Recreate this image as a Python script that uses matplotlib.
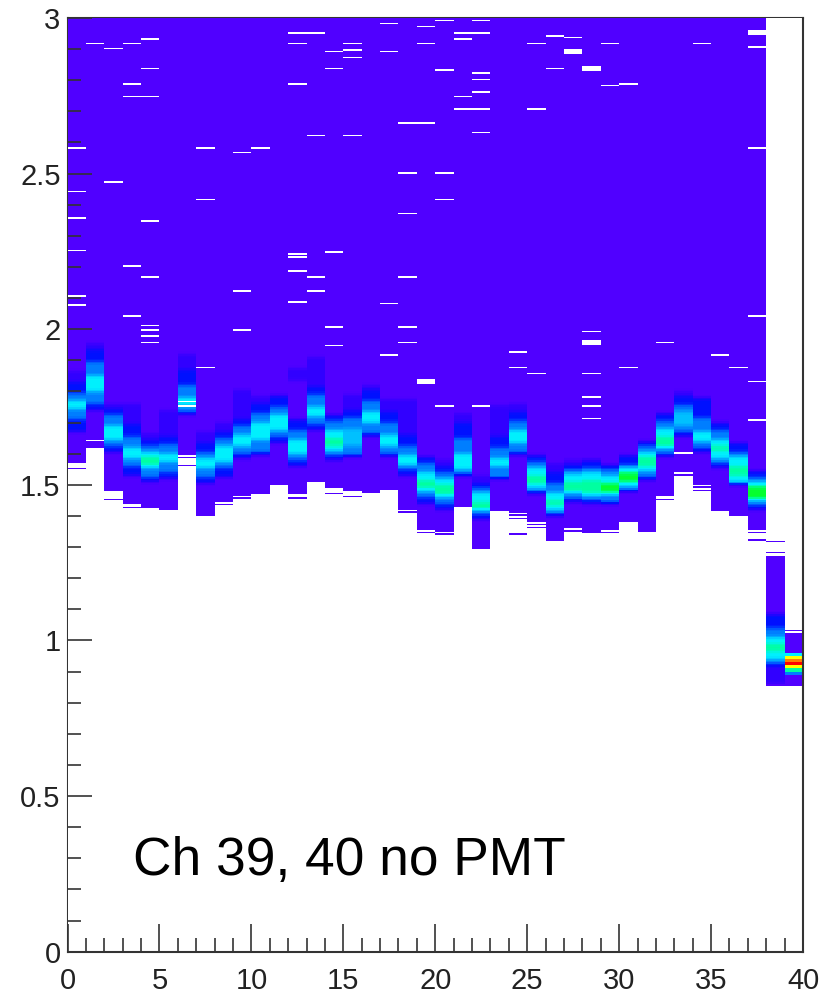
import numpy as np
import matplotlib
matplotlib.use("Agg")
import matplotlib.pyplot as plt
from matplotlib.colors import LinearSegmentedColormap
from matplotlib.ticker import MultipleLocator

plt.rcParams['font.family'] = ['Liberation Sans', 'DejaVu Sans']

# colour steps seen in the picture, low to high
level_colors = ['#5000ff', '#3000ff', '#0010ff', '#0080ff', '#00c0ff', '#00f0ff',
                '#00ffa0', '#00ff30', '#ffff00', '#ff8000', '#ff0000']

# for each channel: where each colour step starts, going up, first edge = bottom of the band
band_edges = [
    [1.572, 1.672, 1.71, 1.745, 1.77, 1.795, 1.83, 1.865],
    [1.62, 1.741, 1.762, 1.80, 1.848, 1.896, 1.934, 1.955],
    [1.479, 1.607, 1.625, 1.645, 1.688, 1.725, 1.746, 1.762],
    [1.441, 1.532, 1.559, 1.586, 1.618, 1.655, 1.693, 1.762],
    [1.425, 1.511, 1.527, 1.554, 1.564, 1.591, 1.607, 1.623, 1.645, 1.666],
    [1.42, 1.522, 1.54, 1.575, 1.60, 1.63, 1.655, 1.74],
    [1.597, 1.725, 1.735, 1.755, 1.779, 1.821, 1.87, 1.918],
    [1.398, 1.506, 1.527, 1.554, 1.586, 1.607, 1.634, 1.672],
    [1.447, 1.527, 1.554, 1.575, 1.623, 1.65, 1.672, 1.698],
    [1.463, 1.586, 1.60, 1.625, 1.66, 1.69, 1.71, 1.805],
    [1.468, 1.596, 1.607, 1.645, 1.698, 1.73, 1.762, 1.784],
    [1.50, 1.634, 1.655, 1.677, 1.725, 1.752, 1.784, 1.79],
    [1.468, 1.559, 1.58, 1.602, 1.645, 1.677, 1.709, 1.837, 1.875],
    [1.516, 1.677, 1.695, 1.72, 1.752, 1.789, 1.816, 1.912],
    [1.49, 1.58, 1.597, 1.61, 1.625, 1.65, 1.675, 1.705, 1.727],
    [1.479, 1.591, 1.596, 1.623, 1.682, 1.714, 1.741, 1.789],
    [1.473, 1.655, 1.666, 1.698, 1.736, 1.768, 1.805, 1.82],
    [1.484, 1.591, 1.602, 1.623, 1.66, 1.698, 1.736, 1.773],
    [1.42, 1.532, 1.548, 1.564, 1.596, 1.623, 1.66, 1.773],
    [1.356, 1.441, 1.462, 1.48, 1.49, 1.515, 1.54, 1.57, 1.59],
    [1.35, 1.42, 1.44, 1.46, 1.47, 1.50, 1.52, 1.54, 1.56, 1.58],
    [1.431, 1.532, 1.55, 1.60, 1.65, 1.70, 1.73],
    [1.302, 1.388, 1.404, 1.42, 1.447, 1.473, 1.49, 1.506, 1.532],
    [1.414, 1.522, 1.559, 1.586, 1.618, 1.655, 1.757],
    [1.411, 1.596, 1.607, 1.634, 1.677, 1.704, 1.736, 1.762],
    [1.382, 1.468, 1.478, 1.49, 1.506, 1.532, 1.554, 1.575, 1.596],
    [1.318, 1.398, 1.404, 1.42, 1.436, 1.452, 1.473, 1.506, 1.538, 1.57],
    [1.361, 1.447, 1.457, 1.473, 1.479, 1.511, 1.533, 1.548, 1.564, 1.58],
    [1.345, 1.441, 1.452, 1.463, 1.473, 1.516, 1.538, 1.554, 1.58],
    [1.356, 1.441, 1.468, 1.479, 1.506, 1.528, 1.548, 1.564],
    [1.382, 1.479, 1.495, 1.511, 1.538, 1.554, 1.564, 1.596],
    [1.35, 1.516, 1.527, 1.543, 1.559, 1.591, 1.607, 1.623, 1.639],
    [1.463, 1.591, 1.602, 1.62, 1.655, 1.682, 1.704, 1.73],
    [1.54, 1.655, 1.672, 1.688, 1.736, 1.757, 1.784, 1.80],
    [1.50, 1.607, 1.618, 1.639, 1.672, 1.714, 1.778],
    [1.415, 1.554, 1.57, 1.586, 1.61, 1.625, 1.645, 1.677, 1.698],
    [1.398, 1.50, 1.511, 1.53, 1.56, 1.591, 1.607, 1.634],
    [1.356, 1.42, 1.436, 1.452, 1.454, 1.495, 1.511, 1.523, 1.543],
    [0.862, 0.916, 0.925, 0.94, 0.964, 0.991, 1.012, 1.039, 1.087],
    [0.857, 0.889, 0.90, 0.911, 0.921, 0.932, 0.94, 0.948, 0.959],
]
band_levels = [
    [0, 2, 3, 5, 3, 2, 1, 0],
    [0, 2, 3, 5, 3, 2, 1, 0],
    [0, 2, 3, 5, 3, 2, 1, 0],
    [0, 2, 3, 5, 3, 2, 1, 0],
    [0, 2, 3, 5, 6, 5, 3, 2, 1, 0],
    [0, 2, 3, 5, 3, 2, 1, 0],
    [0, 2, 3, 5, 3, 2, 1, 0],
    [0, 2, 3, 5, 3, 2, 1, 0],
    [0, 2, 3, 5, 3, 2, 1, 0],
    [0, 2, 3, 5, 3, 2, 1, 0],
    [0, 2, 3, 5, 3, 2, 1, 0],
    [0, 2, 3, 5, 3, 2, 1, 0],
    [0, 2, 3, 5, 3, 2, 0, 1, 0],
    [0, 2, 3, 5, 3, 2, 1, 0],
    [0, 2, 3, 5, 6, 5, 3, 2, 0],
    [0, 2, 3, 4, 3, 2, 1, 0],
    [0, 2, 3, 5, 3, 2, 1, 0],
    [0, 2, 3, 5, 3, 2, 1, 0],
    [0, 2, 3, 5, 3, 2, 1, 0],
    [0, 2, 3, 5, 6, 5, 3, 2, 0],
    [0, 2, 3, 5, 6, 5, 3, 2, 1, 0],
    [0, 3, 5, 3, 2, 1, 0],
    [0, 2, 3, 6, 5, 3, 2, 1, 0],
    [0, 3, 5, 3, 2, 1, 0],
    [0, 2, 3, 5, 3, 2, 1, 0],
    [0, 2, 3, 5, 6, 5, 3, 2, 0],
    [0, 2, 3, 5, 6, 5, 3, 2, 1, 0],
    [0, 2, 3, 5, 6, 5, 3, 2, 1, 0],
    [0, 2, 3, 5, 6, 5, 3, 2, 0],
    [0, 3, 6, 7, 5, 3, 2, 0],
    [0, 3, 5, 7, 5, 3, 2, 0],
    [0, 2, 3, 5, 6, 5, 3, 2, 0],
    [0, 2, 3, 6, 5, 3, 2, 0],
    [0, 2, 3, 4, 3, 2, 1, 0],
    [0, 2, 3, 5, 3, 2, 0],
    [0, 2, 3, 5, 6, 5, 3, 2, 0],
    [0, 3, 5, 6, 5, 3, 2, 0],
    [0, 2, 3, 5, 7, 5, 3, 2, 0],
    [1, 2, 3, 5, 6, 5, 3, 2, 0],
    [0, 3, 6, 8, 10, 9, 8, 5, 0],
]
band_tops = [3.0] * 38 + [1.269, 1.023]

# empty bins inside the purple area
gap_cols = [1, 2, 3, 4, 4, 3, 3, 4, 12, 13, 12, 14, 14, 15, 15, 15, 17, 17, 12, 13, 15,
            0, 7, 9, 10, 2, 0, 7, 18, 19, 18, 18,
            20, 19, 19, 21, 22, 21, 22, 20, 22, 22, 22, 21, 21, 22, 25, 22, 20, 20,
            26, 27, 25, 27, 26, 28, 29, 29, 30, 34, 37, 37, 37,
            18, 0, 4, 0, 12, 12, 12, 14, 3, 4, 13, 13, 18, 9, 0, 0, 12, 17, 3,
            4, 4, 4, 4, 9, 14, 14, 18, 18, 37, 28, 28, 32,
            17, 7, 19, 20, 22, 24, 24, 25, 28, 28, 28, 28, 30, 35, 36, 37, 37,
            1, 6, 6, 33]
gap_y = [2.916, 2.904, 2.916, 2.932, 2.838, 2.789, 2.745, 2.745, 2.953, 2.953, 2.916, 2.894, 2.838, 2.916, 2.898, 2.872, 2.981, 2.894, 2.789, 2.624, 2.621,
         2.581, 2.581, 2.565, 2.581, 2.472, 2.44, 2.418, 2.664, 2.664, 2.5, 2.664,
         2.992, 2.97, 2.916, 2.953, 2.953, 2.932, 2.992, 2.833, 2.822, 2.8, 2.762, 2.745, 2.708, 2.708, 2.708, 2.631, 2.5, 2.418,
         2.942, 2.937, 2.916, 2.89, 2.838, 2.835, 2.916, 2.784, 2.789, 2.916, 2.951, 2.909, 2.581,
         2.373, 2.358, 2.347, 2.254, 2.242, 2.231, 2.187, 2.248, 2.204, 2.166, 2.166, 2.122, 2.166, 2.122, 2.106, 2.078, 2.089, 2.083, 2.041,
         2.013, 1.997, 1.979, 1.958, 1.997, 2.007, 1.947, 2.007, 1.958, 2.041, 1.99, 1.956, 1.958,
         1.915, 1.876, 1.83, 1.75, 1.75, 1.925, 1.876, 1.859, 1.859, 1.783, 1.75, 1.711, 1.876, 1.915, 1.876, 1.832, 1.707,
         1.64, 1.755, 1.765, 1.6]

# wider empty bands
wide_gap_cols = [27, 28, 37, 19, 28]
wide_gap_y = [2.89, 2.835, 2.951, 1.83, 1.956]

# isolated filled bins under the band
stray_cols = [0, 2, 3, 6, 6, 8, 9, 12, 13, 14, 15, 18, 19, 20, 22, 24, 24, 24, 25, 25,
              27, 29, 32, 33, 34, 34, 37, 37, 38, 38, 38, 39]
stray_y = [1.554, 1.454, 1.427, 1.589, 1.561, 1.436, 1.455, 1.455, 1.511, 1.473, 1.463, 1.41, 1.345, 1.342, 1.295,
           1.40, 1.39, 1.342, 1.374, 1.361, 1.35, 1.345, 1.454, 1.53, 1.49, 1.48, 1.347, 1.324, 1.319, 1.281, 0.857, 1.034]

x_labels = ['0', '5', '10', '15', '20', '25', '30', '35', '40']
y_labels = ['0', '0.5', '1', '1.5', '2', '2.5', '3']

n_cols = 40
n_bins = 600
bin_h = 3.0 / n_bins
y_edges = np.linspace(0, 3, n_bins + 1)
y_mid = (y_edges[:-1] + y_edges[1:]) / 2
x_edges = np.arange(n_cols + 1)
soften = np.array([1, 2, 3, 2, 1]) / 9

grid = np.full((n_bins, n_cols), np.nan)
for c in range(n_cols):
    edges = band_edges[c] + [band_tops[c]]
    col = np.zeros(n_bins)
    for k in range(len(band_levels[c])):
        col[(y_mid >= edges[k]) & (y_mid < edges[k + 1])] = band_levels[c][k]
    # the original is a soft picture, steps run into each other a bit
    if c < 39:
        col = np.convolve(col, soften, mode='same')
    filled = (y_mid >= edges[0]) & (y_mid < edges[-1])
    grid[filled, c] = col[filled]

for c, y in zip(stray_cols, stray_y):
    grid[int(y / bin_h), c] = 0
for c, y in zip(gap_cols, gap_y):
    grid[int(y / bin_h), c] = np.nan
for c, y in zip(wide_gap_cols, wide_gap_y):
    row = int(y / bin_h)
    grid[row - 1:row + 2, c] = np.nan

fig = plt.figure(figsize=(8.33, 9.96), dpi=100)
ax = fig.add_axes([67.5 / 833, 1 - 951.7 / 996, (803 - 67.5) / 833, (951.7 - 18) / 996])

cmap = LinearSegmentedColormap.from_list('root_rainbow', level_colors, N=256)
cmap.set_bad('white')
ax.pcolormesh(x_edges, y_edges, np.ma.masked_invalid(grid), cmap=cmap, vmin=0, vmax=10,
              zorder=1, linewidth=0, rasterized=True)

ax.set_xlim(0, 40)
ax.set_ylim(0, 3)
ax.set_xticks(range(0, 41, 5), x_labels)
ax.set_yticks([0, 0.5, 1, 1.5, 2, 2.5, 3], y_labels)
ax.xaxis.set_minor_locator(MultipleLocator(1))
ax.yaxis.set_minor_locator(MultipleLocator(0.1))

ink = '#333333'
ax.tick_params(axis='x', which='major', direction='in', length=20, width=1.2, color=ink,
               labelsize=21, labelcolor='#222222', pad=11)
ax.tick_params(axis='x', which='minor', direction='in', length=10, width=1.2, color=ink)
ax.tick_params(axis='y', which='major', direction='in', length=17, width=1.2, color=ink,
               labelsize=21, labelcolor='#222222', pad=5)
ax.tick_params(axis='y', which='minor', direction='in', length=9.5, width=1.2, color=ink)

for side in ['left', 'right', 'top', 'bottom']:
    ax.spines[side].set_linewidth(1.5)
    ax.spines[side].set_color(ink)
ax.spines['left'].set_zorder(0)
ax.spines['top'].set_zorder(0)
ax.set_axisbelow(False)

fig.text(133 / 833, 1 - 875 / 996, 'Ch 39, 40 no PMT', fontsize=38.3, color='black', va='baseline')

fig.savefig('out.png', dpi=100)
